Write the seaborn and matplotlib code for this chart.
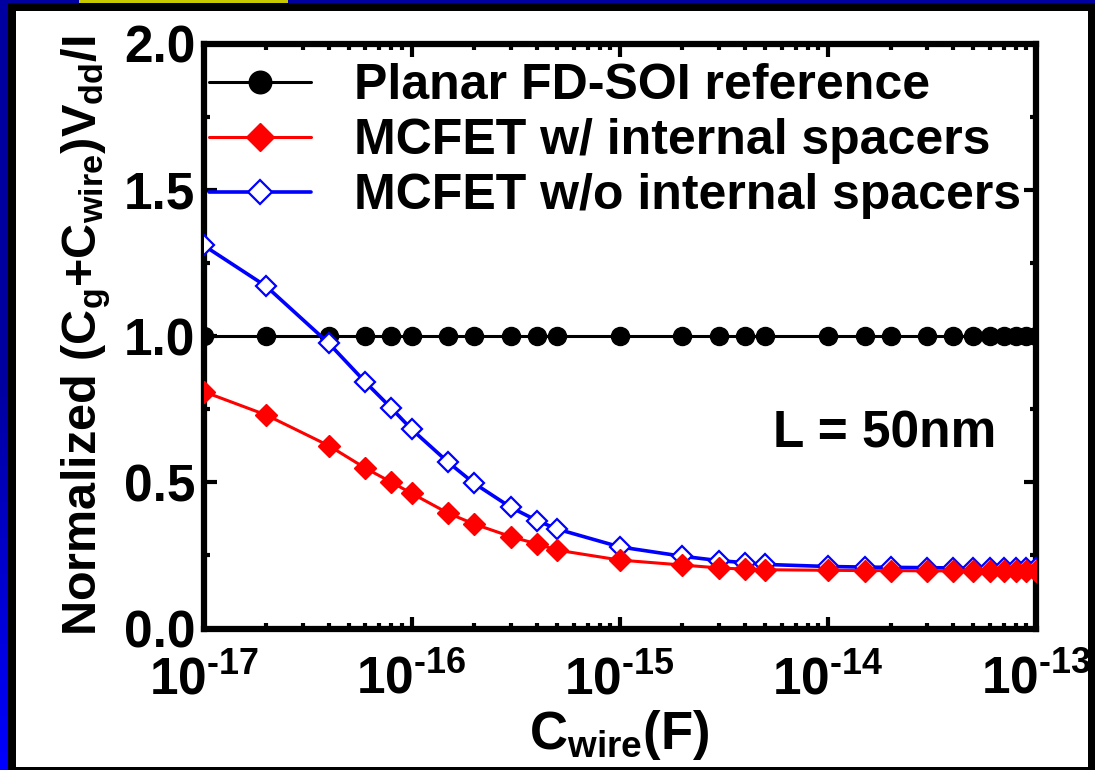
import numpy as np
import pandas as pd
import matplotlib
matplotlib.use("Agg")
import matplotlib.pyplot as plt
from matplotlib.patches import Rectangle
from matplotlib.ticker import FixedLocator, LogLocator, MultipleLocator, NullFormatter, FixedFormatter
import seaborn as sns

# Wire capacitance sweep (F)
c_wire = [1e-17, 2e-17, 4e-17, 6e-17, 8e-17, 1e-16, 1.5e-16, 2e-16, 3e-16, 4e-16, 5e-16,
          1e-15, 2e-15, 3e-15, 4e-15, 5e-15, 1e-14, 1.5e-14, 2e-14, 3e-14, 4e-14, 5e-14,
          6e-14, 7e-14, 8e-14, 9e-14, 1e-13]

# Normalized (Cg + Cwire) Vdd / I
planar_ref = [1.0, 1.0, 1.0, 1.0, 1.0, 1.0, 1.0, 1.0, 1.0, 1.0, 1.0,
              1.0, 1.0, 1.0, 1.0, 1.0, 1.0, 1.0, 1.0, 1.0, 1.0, 1.0,
              1.0, 1.0, 1.0, 1.0, 1.0]
mcfet_with = [0.81, 0.73, 0.625, 0.548, 0.500, 0.462, 0.394, 0.357, 0.314, 0.289, 0.268,
              0.234, 0.217, 0.207, 0.203, 0.201, 0.199, 0.198, 0.198, 0.197, 0.197, 0.197,
              0.197, 0.197, 0.197, 0.197, 0.197]
mcfet_without = [1.31, 1.17, 0.975, 0.842, 0.753, 0.681, 0.568, 0.496, 0.414, 0.369, 0.340,
                 0.279, 0.247, 0.232, 0.225, 0.219, 0.212, 0.210, 0.209, 0.208, 0.207, 0.207,
                 0.207, 0.207, 0.207, 0.207, 0.207]

series_labels = ["Planar FD-SOI reference",
                 "MCFET w/ internal spacers",
                 "MCFET w/o internal spacers"]

x_ticks = [1e-17, 1e-16, 1e-15, 1e-14, 1e-13]
x_tick_labels = [r"$\mathbf{10^{\text{-}17}}$", r"$\mathbf{10^{\text{-}16}}$",
                 r"$\mathbf{10^{\text{-}15}}$", r"$\mathbf{10^{\text{-}14}}$",
                 r"$\mathbf{10^{\text{-}13}}$"]
y_ticks = [0.0, 0.5, 1.0, 1.5, 2.0]
y_tick_labels = ["0.0", "0.5", "1.0", "1.5", "2.0"]

sns.set_theme(style="ticks")
plt.rcParams["font.family"] = ["Liberation Sans", "DejaVu Sans"]
plt.rcParams["font.weight"] = "bold"
plt.rcParams["axes.labelweight"] = "bold"
for key in ("text.color", "axes.labelcolor", "xtick.color", "ytick.color",
            "axes.edgecolor"):
    plt.rcParams[key] = "black"
plt.rcParams["mathtext.fontset"] = "custom"
plt.rcParams["mathtext.rm"] = "Liberation Sans:bold"
plt.rcParams["mathtext.bf"] = "Liberation Sans:bold"
plt.rcParams["mathtext.it"] = "Liberation Sans:bold"
plt.rcParams["mathtext.default"] = "regular"

W, H = 1095, 770
fig = plt.figure(figsize=(W / 100, H / 100), dpi=100)
fig.patch.set_facecolor("#0000a0")

# slide frame: blue edge with a gradient on the left, black border, white panel
edge = fig.add_axes([0, 0, 8 / W, 1])
edge.imshow(np.linspace(0, 1, 256).reshape(-1, 1), aspect="auto",
            cmap=matplotlib.colors.LinearSegmentedColormap.from_list(
                "edge", ["#0000a0", "#0000a0", "#0000ff"]),
            extent=[0, 1, 0, 1], origin="upper")
edge.set_axis_off()
fig.add_artist(Rectangle((8 / W, 0), (W - 8) / W, (H - 3) / H, transform=fig.transFigure,
                         facecolor="black", edgecolor="none", zorder=-5))
fig.add_artist(Rectangle((16 / W, 3 / H), (1088 - 16) / W, (767 - 11) / H,
                         transform=fig.transFigure, facecolor="white", edgecolor="none",
                         zorder=-4))
fig.add_artist(Rectangle((79 / W, 1 - 3 / H), (288 - 79) / W, 3 / H, transform=fig.transFigure,
                         facecolor="#c8c800", edgecolor="none", zorder=-4))

ax = fig.add_axes([203.5 / W, 1 - 628.5 / H, (1036 - 203.5) / W, (628.5 - 43.5) / H])
ax.set_facecolor("white")

df = pd.DataFrame({"c_wire": c_wire, "planar": planar_ref,
                   "with": mcfet_with, "without": mcfet_without})

sns.lineplot(data=df, x="c_wire", y="planar", ax=ax, estimator=None, sort=False,
             color="black", linewidth=2.2, marker="o", markersize=13,
             markerfacecolor="black", markeredgecolor="black", markeredgewidth=1,
             label=series_labels[0], zorder=2)
sns.lineplot(data=df, x="c_wire", y="without", ax=ax, estimator=None, sort=False,
             color="#0000ff", linewidth=2.6, marker="D", markersize=10,
             markerfacecolor="white", markeredgecolor="#0000ff", markeredgewidth=1.6,
             label=series_labels[2], zorder=3)
sns.lineplot(data=df, x="c_wire", y="with", ax=ax, estimator=None, sort=False,
             color="red", linewidth=2.2, marker="D", markersize=11,
             markerfacecolor="red", markeredgecolor="red", markeredgewidth=1,
             label=series_labels[1], zorder=4)

ax.set_xscale("log")
ax.set_xlim(1e-17, 1e-13)
ax.set_ylim(0, 2)
ax.xaxis.set_major_locator(FixedLocator(x_ticks))
ax.xaxis.set_major_formatter(FixedFormatter(x_tick_labels))
ax.xaxis.set_minor_locator(LogLocator(base=10, subs=np.arange(2, 10)))
ax.xaxis.set_minor_formatter(NullFormatter())
ax.yaxis.set_major_locator(FixedLocator(y_ticks))
ax.yaxis.set_major_formatter(FixedFormatter(y_tick_labels))
ax.yaxis.set_minor_locator(MultipleLocator(0.25))

for s in ax.spines.values():
    s.set_linewidth(4.5)
    s.set_color("black")
    s.set_visible(True)
ax.tick_params(which="both", direction="in", top=True, right=True, color="black",
               width=3)
ax.tick_params(which="major", length=9, labelsize=37, pad=6)
ax.tick_params(which="minor", length=4.5)
ax.tick_params(axis="x", which="major", pad=19)

ax.set_xlabel(r"C$_{wire}$(F)", fontsize=38, labelpad=2)
ax.set_ylabel(r"Normalized (C$_{g}$+C$_{wire}$)V$_{dd}$/I", fontsize=35, labelpad=8)

ax.text(0.952, 0.332, "L = 50nm", transform=ax.transAxes, ha="right", va="center",
        fontsize=37, fontweight="bold")

# legend in series order: reference, with spacers, without spacers
handles, labels = ax.get_legend_handles_labels()
order = [labels.index(lbl) for lbl in series_labels]
leg = ax.legend([handles[i] for i in order], [labels[i] for i in order],
                loc="upper left", bbox_to_anchor=(0.0, 0.975), frameon=False,
                fontsize=36, handlelength=2.05, handletextpad=0.87, labelspacing=0.18,
                borderpad=0.1, borderaxespad=0.0, markerscale=1.25)
for t in leg.get_texts():
    t.set_fontweight("bold")

fig.savefig("out.png", dpi=100, facecolor=fig.get_facecolor())
